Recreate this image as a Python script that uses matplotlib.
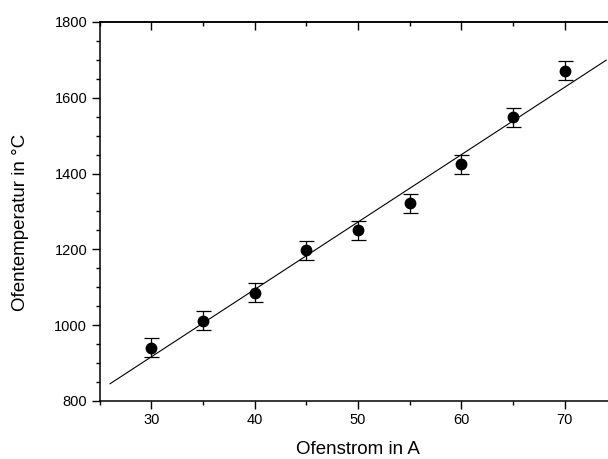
import numpy as np
import matplotlib
matplotlib.use("Agg")
import matplotlib.pyplot as plt
from matplotlib.ticker import MultipleLocator

plt.rcParams['font.family'] = ['Liberation Sans', 'DejaVu Sans']

# Measured oven temperature versus oven current
current = [30, 35, 40, 45, 50, 55, 60, 65, 70]
temperature = [940, 1012, 1085, 1198, 1250, 1322, 1425, 1548, 1671]
temp_err = [25, 25, 25, 25, 25, 25, 25, 25, 25]
fit_range = [26, 74]

fig = plt.figure(figsize=(6.08, 4.59), dpi=100)
ax = fig.add_axes([0.164, 0.1264, 0.850, 0.8257])

# Linear fit through the measurements
slope, intercept = np.polyfit(current, temperature, 1)
xf = np.array(fit_range, dtype=float)
ax.plot(xf, slope * xf + intercept, color='black', lw=0.8, zorder=2)

ax.errorbar(current, temperature, yerr=temp_err, fmt='o', color='black',
            ms=7.5, elinewidth=0.9, capsize=5.4, capthick=0.9, zorder=3)

ax.set_xlim(25, 75)
ax.set_ylim(800, 1800)

ax.xaxis.set_major_locator(MultipleLocator(10))
ax.xaxis.set_minor_locator(MultipleLocator(5))
ax.yaxis.set_major_locator(MultipleLocator(200))
ax.yaxis.set_minor_locator(MultipleLocator(50))

for s in ax.spines.values():
    s.set_linewidth(1.1)
ax.spines['right'].set_visible(False)

ax.tick_params(axis='both', which='major', length=6, width=1.0,
               labelsize=10.5, direction='out', pad=3)
ax.tick_params(axis='both', which='minor', length=3, width=1.0, direction='out')

# Mirrored ticks on the top spine, pointing inward
top = ax.secondary_xaxis('top')
top.set_xticks(np.arange(30, 75, 10))
top.xaxis.set_minor_locator(MultipleLocator(5))
top.tick_params(which='major', direction='in', length=6, width=1.0, labeltop=False)
top.tick_params(which='minor', direction='in', length=3, width=1.0)
top.spines['top'].set_linewidth(1.1)

ax.set_xlabel('Ofenstrom in A', fontsize=13.5, va='center')
ax.set_ylabel('Ofentemperatur in °C', fontsize=13.5, va='center')
ax.xaxis.set_label_coords(0.5, -0.127)
ax.yaxis.set_label_coords(-0.153, 0.47)

fig.savefig('out.png', dpi=100)
